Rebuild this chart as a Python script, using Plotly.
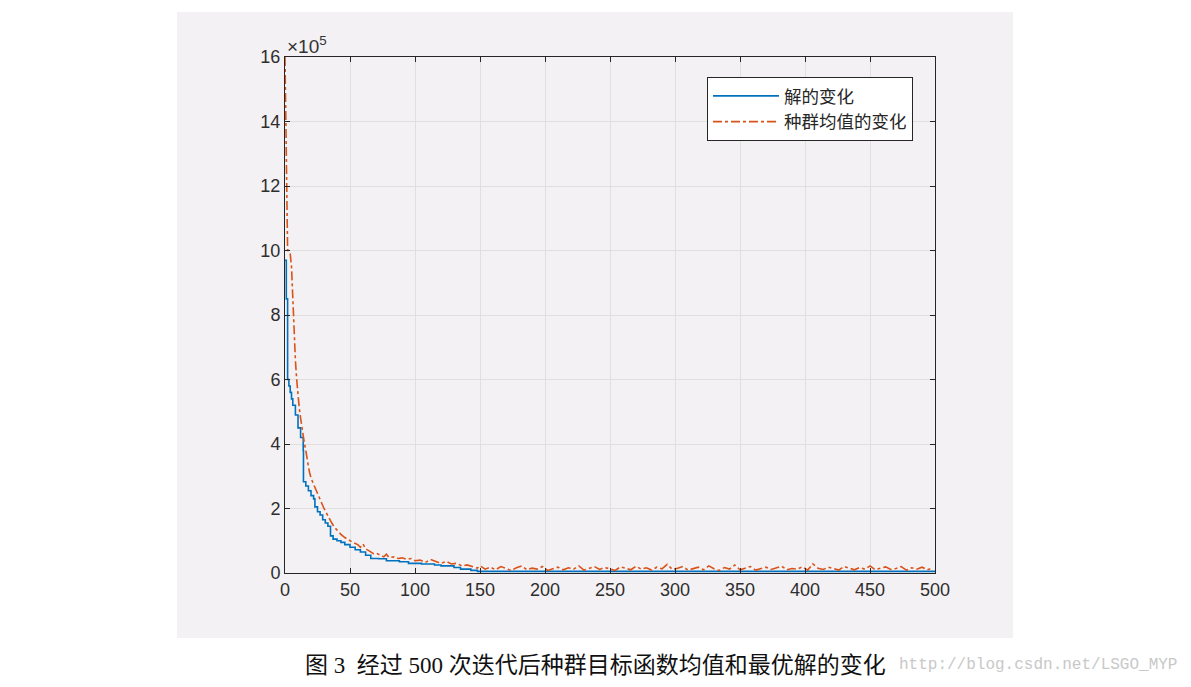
import plotly.graph_objects as go

# ---- data (values in units of 1e5) ----
best_x = [0, 1, 2, 3, 4, 5, 6, 8, 10, 12, 14, 14.2, 16, 18, 20, 22, 23, 25, 27, 29, 31, 33, 35, 37, 40, 43,
          46, 50, 54, 58, 62, 66, 72, 78, 88, 95, 105, 115, 120, 130, 135, 143, 148, 500]
best_y = [9.7, 8.5, 6.0, 5.8, 5.6, 5.4, 5.2, 4.9, 4.5, 4.2, 3.8, 2.83, 2.7, 2.55, 2.4, 2.3, 2.05, 1.9, 1.8, 1.65,
          1.55, 1.45, 1.15, 1.05, 1.0, 0.95, 0.88, 0.8, 0.72, 0.65, 0.55, 0.45, 0.44, 0.38, 0.35, 0.3, 0.28,
          0.25, 0.22, 0.17, 0.12, 0.08, 0.05, 0.05]

mean_x = [0, 1, 2, 3, 4, 5, 6, 7, 8, 9, 10, 11, 12, 13, 14, 15, 16, 17, 18, 19, 20, 22, 24, 26, 28, 30,
          32, 34, 36, 38, 40, 43, 46, 50, 53, 56, 58, 60, 62, 65, 68, 70, 73, 76, 78, 80, 84, 87, 90, 94,
          97, 100, 104, 108, 112, 116, 120, 124, 128, 132, 136, 140, 144, 148, 150, 154,
          158, 162, 166, 170, 174, 178, 182, 186, 190, 194, 198, 202, 206, 210, 214, 218, 222, 226,
          230, 234, 238, 242, 246, 250, 254, 258, 262, 266, 270, 274, 278, 282, 286, 290, 294, 298,
          302, 306, 310, 314, 318, 322, 326, 330, 334, 338, 342, 346, 350, 354, 358, 362, 366, 370,
          374, 378, 382, 386, 390, 394, 398, 402, 406, 410, 414, 418, 422, 426, 430, 434, 438, 442,
          446, 450, 454, 458, 462, 466, 470, 474, 478, 482, 486, 490, 494, 498, 500]
mean_y = [16.0, 12.0, 10.0, 10.0, 9.9, 9.5, 8.5, 7.3, 6.6, 6.0, 5.5, 5.1, 4.8, 4.5, 4.2, 4.0, 3.8, 3.5,
          3.3, 3.1, 2.95, 2.75, 2.55, 2.35, 2.15, 2.0, 1.85, 1.68, 1.55, 1.42, 1.32, 1.2, 1.1, 1.0, 0.93,
          0.88, 0.8, 0.9, 0.75, 0.68, 0.6, 0.62, 0.55, 0.5, 0.58, 0.48, 0.5, 0.45, 0.47, 0.42, 0.45, 0.38,
          0.4, 0.33, 0.42, 0.35, 0.3, 0.36, 0.28, 0.3, 0.22, 0.25, 0.2, 0.15, 0.22, 0.12,
          0.18, 0.1, 0.2, 0.14, 0.08, 0.16, 0.22, 0.1, 0.15, 0.12, 0.2, 0.08, 0.14, 0.18, 0.1, 0.16,
          0.12, 0.22, 0.09, 0.15, 0.2, 0.11, 0.17, 0.13, 0.08, 0.19, 0.14, 0.1, 0.21, 0.12, 0.16, 0.09,
          0.18, 0.13, 0.27, 0.11, 0.15, 0.2, 0.09, 0.14, 0.18, 0.1, 0.22, 0.13, 0.08, 0.17, 0.12, 0.25,
          0.1, 0.15, 0.2, 0.09, 0.13, 0.18, 0.11, 0.16, 0.21, 0.1, 0.14, 0.12, 0.19, 0.09, 0.28, 0.15,
          0.11, 0.18, 0.13, 0.09, 0.2, 0.14, 0.1, 0.17, 0.12, 0.22, 0.1, 0.15, 0.19, 0.11, 0.14, 0.2,
          0.09, 0.16, 0.12, 0.18, 0.1, 0.15]

x_ticks = [0, 50, 100, 150, 200, 250, 300, 350, 400, 450, 500]
y_ticks = [0, 2, 4, 6, 8, 10, 12, 14, 16]
y_ticktext = ["0", "2", "4", "6", "8", "10", "12", "14", "16"]

series_names = ["解的变化", "种群均值的变化"]
caption = "图 3  经过 500 次迭代后种群目标函数均值和最优解的变化"
watermark = "http://blog.csdn.net/LSGO_MYP"

# page body has an 8px margin; figure is sized so plot area lands where the reference has it
W, H = 1175, 671
L, T = 277, 49
PW, PH = 650, 516

fig = go.Figure()
fig.add_trace(go.Scatter(x=best_x, y=best_y, mode="lines", name=series_names[0],
                         line=dict(color="#0072BD", width=1.6, shape="hv")))
fig.add_trace(go.Scatter(x=mean_x, y=mean_y, mode="lines", name=series_names[1],
                         line=dict(color="#D95319", width=1.6, dash="dashdot")))

axis_common = dict(showline=True, linecolor="#262626", linewidth=1, mirror="allticks",
                   ticks="inside", ticklen=5, tickcolor="#262626",
                   showgrid=True, gridcolor="#DFDFDF", gridwidth=1, zeroline=False,
                   tickfont=dict(family="Liberation Sans, Arial", size=18, color="#2E2E2E"))

fig.update_xaxes(range=[0, 500], tickvals=x_ticks, **axis_common)
fig.update_yaxes(range=[0, 16], tickvals=y_ticks, ticktext=y_ticktext, **axis_common)

fig.update_layout(
    width=W, height=H,
    margin=dict(l=L, r=W - L - PW, t=T, b=H - T - PH),
    paper_bgcolor="white", plot_bgcolor="white",
    showlegend=True,
    legend=dict(x=(707 - 285) / PW, y=(573 - 77) / PH, xanchor="left", yanchor="top",
                bgcolor="white", bordercolor="#262626", borderwidth=1,
                font=dict(family="Noto Sans CJK SC", size=17.5, color="#262626"),
                itemwidth=66, tracegroupgap=0),
    shapes=[dict(type="rect", xref="paper", yref="paper", layer="below",
                 x0=(177 - 285) / PW, x1=(1013 - 285) / PW,
                 y0=(573 - 638) / PH, y1=(573 - 12) / PH,
                 fillcolor="#F4F1F4", line=dict(width=0))],
    annotations=[
        dict(text="×10<sup>5</sup>", xref="paper", yref="paper", x=0.0, y=1.0,
             xanchor="left", yanchor="bottom", showarrow=False, yshift=-2,
             font=dict(family="Liberation Sans, Arial", size=19, color="#333333")),
        dict(text=caption, xref="paper", yref="paper", x=(595 - 285) / PW, y=(573 - 666) / PH,
             xanchor="center", yanchor="middle", showarrow=False,
             font=dict(family="Liberation Serif, Noto Sans CJK SC", size=23, color="#111111")),
        dict(text=watermark, xref="paper", yref="paper", x=(897 - 285) / PW, y=(573 - 665) / PH,
             xanchor="left", yanchor="middle", showarrow=False,
             font=dict(family="Liberation Mono", size=16, color="#C8C8C8")),
    ],
)

fig.write_html("out.html")
